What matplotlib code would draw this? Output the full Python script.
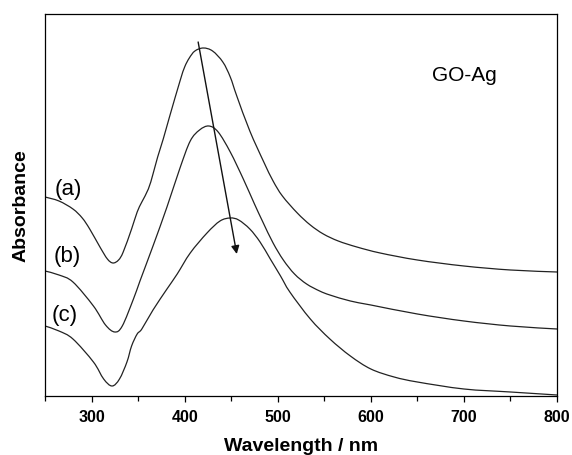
import matplotlib
matplotlib.use("Agg")
import matplotlib.pyplot as plt
from matplotlib.path import Path
from matplotlib.patches import PathPatch
import numpy as np

plt.rcParams['font.family'] = ['Liberation Sans', 'DejaVu Sans']

# (arbitrary absorbance units)
wl_a = [250, 265, 280, 290, 298, 309, 317, 323, 329, 334, 343, 349, 354, 361, 366, 371, 377, 384, 395, 400, 405, 411, 420,
        430, 441, 449, 456, 470, 485, 495, 505, 521, 535, 549, 565, 585, 610, 650, 700, 750, 800]
abs_a = [1.99, 1.95, 1.87, 1.78, 1.67, 1.49, 1.37, 1.33, 1.36, 1.44, 1.67, 1.84, 1.94, 2.07, 2.22, 2.39, 2.57, 2.80, 3.15, 3.29, 3.38, 3.45, 3.48,
         3.45, 3.34, 3.19, 3.00, 2.65, 2.34, 2.15, 2.00, 1.83, 1.71, 1.62, 1.55, 1.49, 1.43, 1.36, 1.30, 1.26, 1.24]

wl_b = [250, 265, 280, 302, 315, 325, 333, 345, 352, 366, 381, 395, 406, 416, 426, 436, 449, 463,
        475, 484, 495, 506, 518, 531, 545, 556, 578, 600, 650, 700, 750, 800]
abs_b = [1.25, 1.21, 1.14, 0.90, 0.71, 0.64, 0.70, 0.97, 1.15, 1.50, 1.89, 2.28, 2.55, 2.66, 2.70, 2.64, 2.44, 2.17,
         1.92, 1.74, 1.53, 1.36, 1.22, 1.12, 1.05, 1.01, 0.95, 0.91, 0.82, 0.75, 0.70, 0.67]

wl_c = [250, 265, 280, 302, 313, 322, 330, 338, 343, 349, 354, 366, 381, 392, 406, 424, 438, 449, 458,
        470, 481, 492, 503, 513, 535, 556, 578, 600, 625, 650, 700, 750, 800]
abs_c = [0.70, 0.65, 0.57, 0.34, 0.17, 0.10, 0.17, 0.34, 0.50, 0.62, 0.67, 0.86, 1.07, 1.22, 1.43, 1.63, 1.75, 1.78, 1.76,
         1.67, 1.54, 1.37, 1.20, 1.04, 0.77, 0.57, 0.40, 0.27, 0.19, 0.14, 0.07, 0.04, 0.01]

curve_labels = ["(a)", "(b)", "(c)"]
label_pos = [(274.7, 2.07), (273.6, 1.40), (271.5, 0.81)]


def smooth_path(x, y):
    # catmull-rom through the read points, drawn as cubic bezier segments
    pts = np.column_stack([x, y]).astype(float)
    ext = np.vstack([pts[0], pts, pts[-1]])
    verts = [pts[0]]
    codes = [Path.MOVETO]
    for i in range(1, len(ext) - 2):
        p0, p1, p2, p3 = ext[i - 1], ext[i], ext[i + 1], ext[i + 2]
        verts += [p1 + (p2 - p0) / 6, p2 - (p3 - p1) / 6, p2]
        codes += [Path.CURVE4] * 3
    return Path(verts, codes)


fig = plt.figure(figsize=(5.72, 4.56), dpi=100)
ax = fig.add_axes([0.0787, 0.1294, 0.8951, 0.8377])

for x, y in [(wl_a, abs_a), (wl_b, abs_b), (wl_c, abs_c)]:
    ax.add_patch(PathPatch(smooth_path(x, y), facecolor="none",
                           edgecolor="#222222", linewidth=0.9))

for lab, (x, y) in zip(curve_labels, label_pos):
    ax.text(x, y, lab, fontsize=16, ha="center", va="center")

ax.text(701, 3.22, "GO-Ag", fontsize=15, ha="center", va="center")

# red shift arrow
ax.annotate("", xy=(456, 1.42), xytext=(414.5, 3.54),
            arrowprops=dict(arrowstyle="-|>", color="#111111", lw=1.0,
                            mutation_scale=12, shrinkA=0, shrinkB=0))

ax.set_xlim(250, 800)
ax.set_ylim(0, 3.82)
ax.set_xticks([300, 400, 500, 600, 700, 800])
ax.set_xticks(range(250, 801, 50), minor=True)
ax.tick_params(axis="x", which="major", direction="out", length=4.5, width=0.9, pad=5,
               labelsize=11.5)
ax.tick_params(axis="x", which="minor", direction="out", length=3.5, width=0.9)
ax.tick_params(axis="y", left=False, labelleft=False)
for lab in ax.get_xticklabels():
    lab.set_fontweight("bold")
for sp in ax.spines.values():
    sp.set_linewidth(0.9)

ax.set_xlabel("Wavelength / nm", fontsize=14, fontweight="bold", labelpad=9)
ax.set_ylabel("Absorbance", fontsize=14, fontweight="bold", labelpad=11)

fig.savefig("out.png", dpi=100)
